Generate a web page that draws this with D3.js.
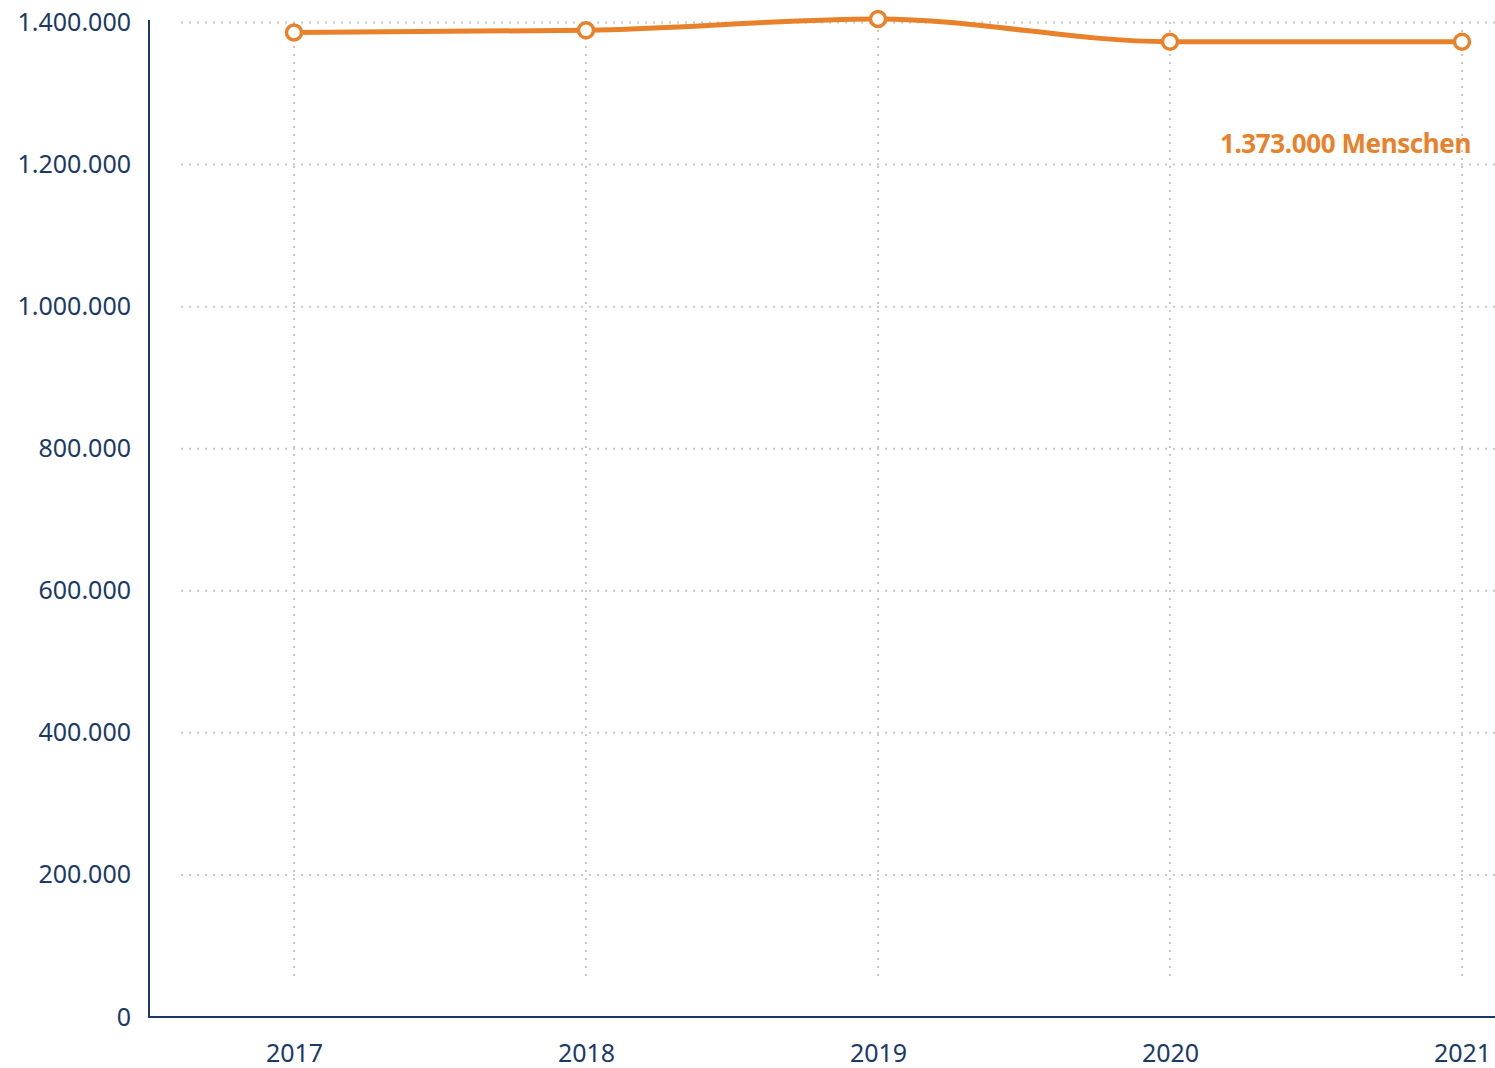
<!DOCTYPE html>
<html><head><meta charset="utf-8">
<script src="https://cdn.jsdelivr.net/npm/d3@7"></script>
<style>
html,body{margin:0;padding:0;background:#fff;}
svg{display:block;}
svg text{font-family:"Noto Sans","Open Sans",sans-serif;}
</style></head>
<body>
<svg id="chart" width="1495" height="1068"></svg>
<script>
const years = ["2017","2018","2019","2020","2021"];
const values = [1386000, 1389000, 1405000, 1373000, 1373000];
const yTicks = [0,200000,400000,600000,800000,1000000,1200000,1400000];
const annotation = "1.373.000 Menschen";

const svg = d3.select("#chart");
const navy = "#1b3a68", orange = "#e8812a", grid = "#c8c8c8";
const fmt = d => d3.format(",")(d).replace(/,/g, ".");

const x = d3.scalePoint().domain(years).range([294, 1462]);
const y = d3.scaleLinear().domain([0, 1400000]).range([1017, 22.5]);

// horizontal grid
svg.append("g").selectAll("line").data(yTicks.slice(1)).join("line")
  .attr("x1", 181).attr("x2", 1495)
  .attr("y1", d => y(d)).attr("y2", d => y(d))
  .attr("stroke", grid).attr("stroke-width", 2).attr("stroke-dasharray", "2,6");

// vertical grid
svg.append("g").selectAll("line").data(years).join("line")
  .attr("x1", d => x(d)).attr("x2", d => x(d))
  .attr("y1", 22).attr("y2", 981)
  .attr("stroke", grid).attr("stroke-width", 2).attr("stroke-dasharray", "2,6");

// axes
const yAxis = svg.append("g").attr("transform", "translate(149,0)")
  .call(d3.axisLeft(y).tickValues(yTicks).tickFormat(fmt).tickSize(0).tickPadding(18));
yAxis.attr("font-family", null);
yAxis.select(".domain").attr("stroke", navy).attr("stroke-width", 2).attr("d", "M0,20V1017");
yAxis.selectAll("text").attr("fill", navy).attr("font-size", 25).attr("dy", "0.32em");

const xAxis = svg.append("g").attr("transform", "translate(0,1017)")
  .call(d3.axisBottom(x).tickSize(0).tickPadding(0));
xAxis.attr("font-family", null);
xAxis.select(".domain").attr("stroke", navy).attr("stroke-width", 2).attr("d", "M148,0H1495");
xAxis.selectAll("text").attr("fill", navy).attr("font-size", 25).attr("dy", 0).attr("y", 45);

// line
const data = years.map((yr, i) => ({yr, v: values[i]}));
svg.append("path").datum(data)
  .attr("fill", "none").attr("stroke", orange).attr("stroke-width", 5)
  .attr("d", d3.line().x(d => x(d.yr)).y(d => y(d.v)).curve(d3.curveMonotoneX));

svg.append("g").selectAll("circle").data(data).join("circle")
  .attr("cx", d => x(d.yr)).attr("cy", d => y(d.v)).attr("r", 7.5)
  .attr("fill", "#fff").attr("stroke", orange).attr("stroke-width", 3.5);

svg.append("text").attr("x", 1471).attr("y", 153).attr("text-anchor", "end")
  .attr("fill", orange).attr("font-size", 26).attr("font-weight", "bold")
  .attr("letter-spacing", "-0.4").text(annotation);
</script>
</body></html>
